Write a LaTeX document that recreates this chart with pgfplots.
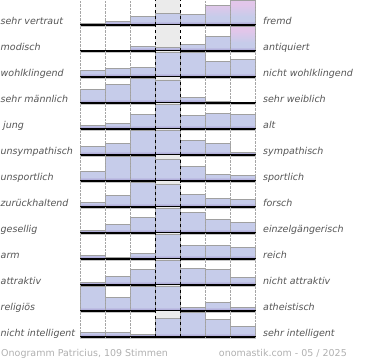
\documentclass[border=0pt]{standalone}
\usepackage{fontspec}
\setmainfont{DejaVu Sans}
\usepackage{pgfplots}
\pgfplotsset{compat=1.18}
\definecolor{barblue}{HTML}{C6CCEA}
\definecolor{barpurple}{HTML}{A093CC}
\definecolor{barpink}{HTML}{E2C6EA}
\definecolor{midgray}{HTML}{EBEBEB}
\definecolor{edgegray}{HTML}{A0A0A0}
\definecolor{labelgray}{HTML}{555555}
\definecolor{footgray}{HTML}{B0B0B0}
\pgfdeclareverticalshading{bluebar}{100bp}{color(0bp)=(barpurple); color(25bp)=(barpurple); color(33bp)=(barblue); color(100bp)=(barblue)}
\pgfdeclareverticalshading{pinkbar}{100bp}{color(0bp)=(barpurple); color(25bp)=(barpurple); color(33bp)=(barblue); color(42bp)=(barblue); color(66bp)=(barpink); color(100bp)=(barpink)}
\pgfplotsset{rowax/.style={
  scale only axis, width=175pt, height=26pt,
  xmin=0, xmax=7, ymin=0, ymax=1.04, enlargelimits=false,
  axis line style={draw=none}, tick style={draw=none},
  xtick={0,1,2,5,6,7}, xticklabels={}, ytick=\empty,
  xmajorgrids, grid style={gray!70, densely dotted, line width=0.5pt},
  extra x ticks={3,4}, extra x tick labels={},
  extra x tick style={grid style={black, dashed, line width=0.6pt}},
  axis on top, clip=false}}
\newcommand{\myrow}[4]{%
\begin{axis}[rowax, at={(80pt,{-25pt-26pt*(#1-1)})}, anchor=south west]
\addplot[ybar interval, fill=midgray, draw=none] coordinates {(3,1.04)(4,1.04)};
\addplot[ybar interval, shading=bluebar, draw=edgegray, line width=0.6pt] coordinates {#2};
#4
\addplot[gray!45, line width=1pt] coordinates {(0,-0.07)(7.03,-0.07)};
\addplot[black, line width=1.5pt] coordinates {(0,0)(7.03,0)};
\end{axis}
\node[anchor=base west, font=\fontsize{9.5}{10}\selectfont\itshape, text=labelgray, inner sep=0pt] at (0.5pt,{-24pt-26pt*(#1-1)}) {#3};
}
\newcommand{\rlabel}[2]{%
\node[anchor=base west, font=\fontsize{9.5}{10}\selectfont\itshape, text=labelgray, inner sep=0pt] at (263pt,{-24pt-26pt*(#1-1)}) {#2};}
\begin{document}
\begin{tikzpicture}
\path[use as bounding box] (0,0) rectangle (370pt,-360pt);
\myrow{1}{(0,0.05)(1,0.13)(2,0.36)(3,0.47)(4,0.41)(5,0.79)(6,1.0)(7,1.0)}{sehr vertraut}{\addplot[ybar interval, shading=pinkbar, draw=edgegray, line width=0.6pt] coordinates {(5,0.79)(6,1.0)(7,1.0)};}
\rlabel{1}{fremd}
\myrow{2}{(0,0)(1,0)(2,0.17)(3,0.13)(4,0.27)(5,0.57)(6,1.0)(7,1.0)}{modisch}{\addplot[ybar interval, shading=pinkbar, draw=edgegray, line width=0.6pt] coordinates {(6,1.0)(7,1.0)};}
\rlabel{2}{antiquiert}
\myrow{3}{(0,0.25)(1,0.35)(2,0.37)(3,1.0)(4,1.0)(5,0.61)(6,0.69)(7,0.69)}{wohlklingend}{}
\rlabel{3}{nicht wohlklingend}
\myrow{4}{(0,0.55)(1,0.76)(2,1.0)(3,0.9)(4,0.24)(5,0.07)(6,0)(7,0)}{sehr männlich}{}
\rlabel{4}{sehr weiblich}
\myrow{5}{(0,0.15)(1,0.21)(2,0.59)(3,1.0)(4,0.53)(5,0.63)(6,0.59)(7,0.59)}{\hspace{2.5pt}jung}{}
\rlabel{5}{alt}
\myrow{6}{(0,0.36)(1,0.47)(2,1.0)(3,1.0)(4,0.57)(5,0.47)(6,0.09)(7,0.09)}{unsympathisch}{}
\rlabel{6}{sympathisch}
\myrow{7}{(0,0.39)(1,1.0)(2,1.0)(3,0.87)(4,0.57)(5,0.27)(6,0.21)(7,0.21)}{unsportlich}{}
\rlabel{7}{sportlich}
\myrow{8}{(0,0.2)(1,0.47)(2,1.0)(3,0.92)(4,0.49)(5,0.33)(6,0.31)(7,0.31)}{zurückhaltend}{}
\rlabel{8}{forsch}
\myrow{9}{(0,0.09)(1,0.35)(2,0.61)(3,1.0)(4,0.83)(5,0.55)(6,0.43)(7,0.43)}{gesellig}{}
\rlabel{9}{einzelgängerisch}
\myrow{10}{(0,0.16)(1,0.05)(2,0.23)(3,1.0)(4,0.55)(5,0.55)(6,0.47)(7,0.47)}{arm}{}
\rlabel{10}{reich}
\myrow{11}{(0,0.11)(1,0.33)(2,0.63)(3,1.0)(4,0.67)(5,0.63)(6,0.29)(7,0.29)}{attraktiv}{}
\rlabel{11}{nicht attraktiv}
\myrow{12}{(0,1.0)(1,0.53)(2,1.0)(3,1.0)(4,0.13)(5,0.36)(6,0.13)(7,0.13)}{religiös}{}
\rlabel{12}{atheistisch}
\myrow{13}{(0,0.2)(1,0.17)(2,0.12)(3,0.75)(4,1.0)(5,0.71)(6,0.41)(7,0.41)}{nicht intelligent}{}
\rlabel{13}{sehr intelligent}
\node[anchor=base west, font=\fontsize{9.5}{10}\selectfont, text=footgray, inner sep=0pt] at (1pt,-356pt) {Onogramm Patricius, 109 Stimmen};
\node[anchor=base east, font=\fontsize{9.5}{10}\selectfont, text=footgray, inner sep=0pt] at (347pt,-356pt) {onomastik.com - 05 / 2025};
\end{tikzpicture}
\end{document}
